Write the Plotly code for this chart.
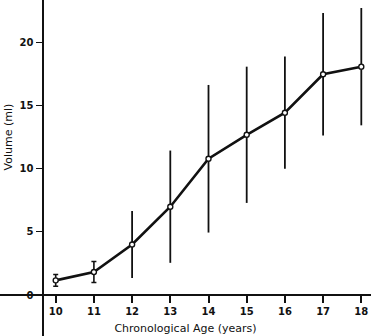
import plotly.graph_objects as go

# Mean testicular volume by chronological age, with +/- 1 SD bars
ages = [10, 11, 12, 13, 14, 15, 16, 17, 18]
volume_mean = [1.16, 1.82, 4.0, 7.0, 10.8, 12.7, 14.45, 17.5, 18.1]
volume_sd = [0.47, 0.83, 2.65, 4.45, 5.85, 5.4, 4.45, 4.85, 4.65]

x_ticks = [10, 11, 12, 13, 14, 15, 16, 17, 18]
y_ticks = [0, 5, 10, 15, 20]

x_title = "Chronological Age (years)"
y_title = "Volume (ml)"

W, H = 371, 336
ink = "#111111"
font_family = "DejaVu Sans"

fig = go.Figure()

# error bars: small caps on the two narrow bars, plain stems elsewhere
fig.add_trace(go.Scatter(
    x=ages[:2], y=volume_mean[:2], mode="markers",
    marker=dict(size=1, color="rgba(0,0,0,0)"),
    error_y=dict(type="data", array=volume_sd[:2], visible=True,
                 color=ink, thickness=1.6, width=2.5),
    showlegend=False, hoverinfo="skip",
))
fig.add_trace(go.Scatter(
    x=ages[2:], y=volume_mean[2:], mode="markers",
    marker=dict(size=1, color="rgba(0,0,0,0)"),
    error_y=dict(type="data", array=volume_sd[2:], visible=True,
                 color=ink, thickness=1.8, width=0),
    showlegend=False, hoverinfo="skip",
))

# mean curve with open circle markers
fig.add_trace(go.Scatter(
    x=ages, y=volume_mean, mode="lines+markers",
    line=dict(color=ink, width=2.6),
    marker=dict(symbol="circle", size=5, color="white",
                line=dict(color=ink, width=1.4)),
    showlegend=False,
))

# vertical axis title, placed in paper space beside the tick labels
fig.add_annotation(
    text=y_title, textangle=-90, showarrow=False,
    xref="paper", yref="paper", x=7.5 / W, y=1 - 137 / H,
    xanchor="center", yanchor="middle",
    font=dict(size=11, family=font_family, color=ink),
)

fig.update_layout(
    width=W, height=H,
    margin=dict(l=0, r=0, t=0, b=0),
    paper_bgcolor="white", plot_bgcolor="white",
    font=dict(family=font_family, color=ink, size=10),
    xaxis=dict(
        range=[8.542, 18.254], anchor="free", position=41 / H,
        showline=True, linecolor=ink, linewidth=1.6,
        showgrid=False, zeroline=False,
        tickmode="array", tickvals=x_ticks, ticktext=[str(v) for v in x_ticks],
        ticks="outside", ticklen=7, tickwidth=1.5, tickcolor=ink,
        tickfont=dict(size=10, family=font_family, weight="bold"),
        title=dict(text=x_title, standoff=8,
                   font=dict(size=11, family=font_family)),
    ),
    yaxis=dict(
        range=[-3.25, 23.385], anchor="free", position=43.3 / W,
        showline=True, linecolor=ink, linewidth=1.6,
        showgrid=False, zeroline=False,
        tickmode="array", tickvals=y_ticks, ticktext=[str(v) for v in y_ticks],
        ticks="outside", ticklen=7, tickwidth=1.3, tickcolor=ink,
        tickfont=dict(size=10, family=font_family, weight="bold"),
    ),
)

fig.write_html("out.html")
